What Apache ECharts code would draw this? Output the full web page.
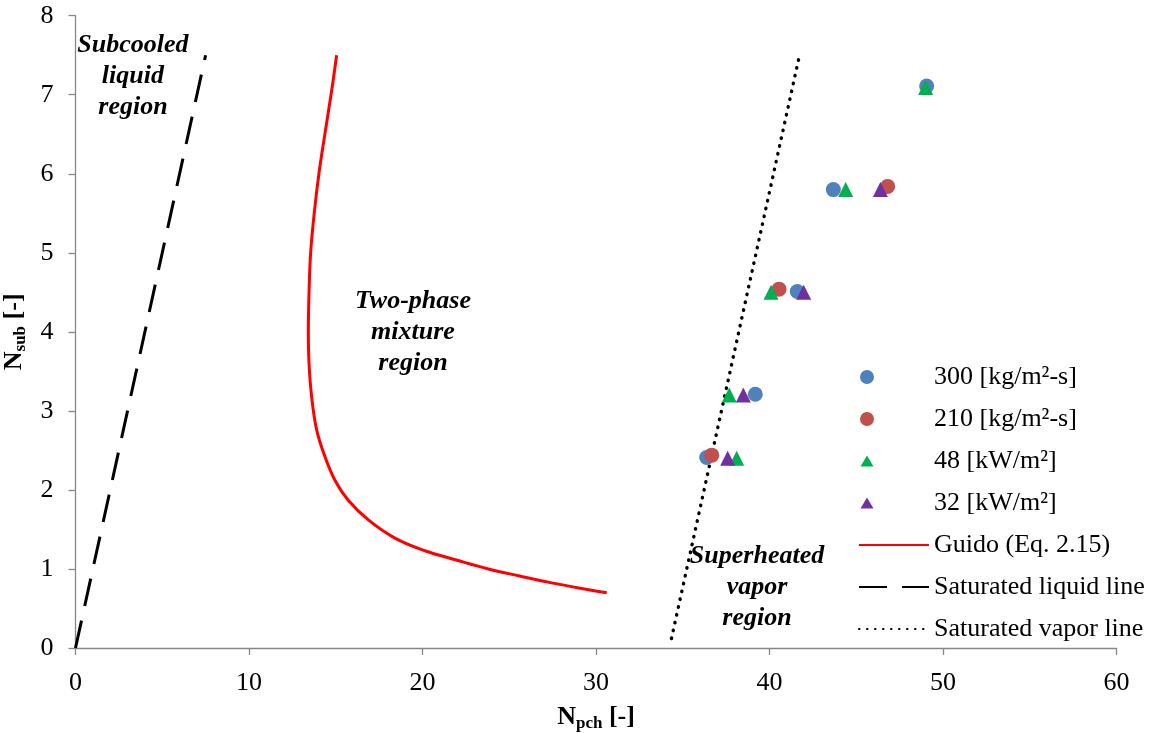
<!DOCTYPE html>
<html>
<head>
<meta charset="utf-8">
<script src="https://cdn.jsdelivr.net/npm/echarts@6/dist/echarts.min.js"></script>
<style>
  html, body { margin: 0; padding: 0; background: #ffffff; }
  #chart { width: 1150px; height: 733px; }
</style>
</head>
<body>
<div id="chart"></div>
<script>
// Axis ticks
const xTicks = [0, 10, 20, 30, 40, 50, 60];
const yTicks = [0, 1, 2, 3, 4, 5, 6, 7, 8];

// Measured stability points [Npch, Nsub]
const mass300 = [[49.06, 7.11], [43.68, 5.80], [41.60, 4.51], [39.18, 3.21], [36.38, 2.41]];
const mass210 = [[46.81, 5.84], [40.55, 4.54], [36.67, 2.44]];
const flux48  = [[49.00, 7.09], [44.39, 5.80], [40.09, 4.50], [37.68, 3.20], [38.11, 2.40]];
const flux32  = [[46.39, 5.80], [41.97, 4.50], [38.49, 3.20], [37.59, 2.40]];

// Guido stability boundary (Eq. 2.15)
const guidoCurve = [
  [15.05, 7.50], [14.77, 7.06], [14.38, 6.51], [14.03, 6.00], [13.76, 5.50],
  [13.55, 4.99], [13.46, 4.49], [13.42, 4.02], [13.46, 3.60], [13.61, 3.18],
  [13.90, 2.76], [14.38, 2.42], [14.96, 2.12], [15.72, 1.87], [16.88, 1.62],
  [18.41, 1.39], [20.14, 1.23], [22.00, 1.11], [23.80, 1.00], [25.60, 0.91],
  [27.30, 0.83], [29.00, 0.76], [30.62, 0.70]
];

// Saturation lines
const satLiquid = [[0, 0], [7.5, 7.5]];
const satVapor  = [[34.35, 0.12], [41.75, 7.52]];

// Region annotations (centre of each text block, in data units)
const regionNames = ['Subcooled\nliquid\nregion', 'Two-phase\nmixture\nregion', 'Superheated\nvapor\nregion'];
const regionAt = [[3.31, 7.23], [19.45, 4.0], [39.28, 0.77]];

const seriesNames = ['300 [kg/m²-s]', '210 [kg/m²-s]', '48 [kW/m²]', '32 [kW/m²]',
  'Guido (Eq. 2.15)', 'Saturated liquid line', 'Saturated vapor line'];

const FONT = "'Liberation Serif', 'Times New Roman', serif";
const AXIS_GRAY = '#888888';

// legend glyphs: marker drawn near the left end of a 70x14 slot
const circleIcon = 'path://M1,7A7,7 0 1,0 15,7A7,7 0 1,0 1,7Z M0,0L0,0.01Z M70,14L70,13.99Z';
const triIcon = 'path://M1.5,12.5L8,1.5L14.5,12.5Z M0,0L0,0.01Z M70,14L70,13.99Z';
// line entries show only the stroke
const hideSymbol = { color: 'rgba(0,0,0,0)', opacity: 0, borderWidth: 0 };

const chart = echarts.init(document.getElementById('chart'), null, { renderer: 'canvas' });

function scatter(name, data, symbol, color) {
  return {
    name, type: 'scatter', data, symbol, symbolSize: 15,
    itemStyle: { color, opacity: 1 },
    emphasis: { disabled: true }
  };
}
function line(name, data, style, smooth) {
  return {
    name, type: 'line', data, showSymbol: false, symbol: 'none', smooth: smooth || false,
    itemStyle: { color: style.color },
    lineStyle: style, emphasis: { disabled: true }, z: 1
  };
}

const axisName = {
  b: { fontFamily: FONT, fontSize: 26, fontWeight: 'bold', color: '#000', lineHeight: 30 },
  s: { fontFamily: FONT, fontSize: 17, fontWeight: 'bold', color: '#000', lineHeight: 12, verticalAlign: 'bottom' }
};

chart.setOption({
  animation: false,
  backgroundColor: '#ffffff',
  textStyle: { fontFamily: FONT },
  grid: { left: 75.5, right: 33.5, top: 15.7, bottom: 85, containLabel: false, outerBoundsMode: 'none' },
  xAxis: {
    type: 'value', min: xTicks[0], max: xTicks[xTicks.length - 1], interval: xTicks[1] - xTicks[0],
    name: '{b|N}{s|pch}{b| [-]}', nameLocation: 'middle', nameGap: 54,
    nameTextStyle: { rich: axisName },
    axisLine: { show: true, onZero: false, lineStyle: { color: AXIS_GRAY, width: 1.3 } },
    axisTick: { show: true, inside: false, length: 7, lineStyle: { color: AXIS_GRAY, width: 1.3 } },
    axisLabel: { margin: 22, fontFamily: FONT, fontSize: 26, color: '#000' },
    splitLine: { show: false }
  },
  yAxis: {
    type: 'value', min: yTicks[0], max: yTicks[yTicks.length - 1], interval: yTicks[1] - yTicks[0],
    name: '{b|N}{s|sub}{b| [-]}', nameLocation: 'middle', nameGap: 44, nameRotate: 90,
    nameTextStyle: { rich: axisName },
    axisLine: { show: true, onZero: false, lineStyle: { color: AXIS_GRAY, width: 1.3 } },
    axisTick: { show: true, inside: false, length: 7, lineStyle: { color: AXIS_GRAY, width: 1.3 } },
    axisLabel: { margin: 22, fontFamily: FONT, fontSize: 26, color: '#000' },
    splitLine: { show: false }
  },
  legend: {
    orient: 'vertical', left: 853, top: 359,
    itemWidth: 70, itemHeight: 14, itemGap: 16,
    selectedMode: false,
    textStyle: { fontFamily: FONT, fontSize: 26, lineHeight: 26, color: '#000' },
    data: [
      { name: seriesNames[0], icon: circleIcon },
      { name: seriesNames[1], icon: circleIcon },
      { name: seriesNames[2], icon: triIcon },
      { name: seriesNames[3], icon: triIcon },
      { name: seriesNames[4], itemStyle: hideSymbol },
      { name: seriesNames[5], itemStyle: hideSymbol },
      { name: seriesNames[6], itemStyle: hideSymbol }
    ]
  },
  series: [
    line(seriesNames[4], guidoCurve, { color: '#ff0000', width: 3 }, 0.4),
    line(seriesNames[5], satLiquid, { color: '#000000', width: 3, type: [28, 15] }),
    line(seriesNames[6], satVapor, { color: '#000000', width: 3.4, type: [0.5, 7.5], cap: 'round' }),
    scatter(seriesNames[0], mass300, 'circle', '#4f81bd'),
    scatter(seriesNames[1], mass210, 'circle', '#c0504d'),
    scatter(seriesNames[2], flux48, 'triangle', '#00b050'),
    scatter(seriesNames[3], flux32, 'triangle', '#7030a0')
  ]
});

// Region captions placed through the grid's coordinate system
chart.setOption({
  graphic: regionAt.map((p, i) => {
    const px = chart.convertToPixel({ gridIndex: 0 }, p);
    return {
      type: 'text', x: px[0], y: px[1], z: 10, silent: true,
      style: {
        text: regionNames[i], fill: '#000000',
        font: "italic bold 26px 'Liberation Serif', 'Times New Roman', serif",
        lineHeight: 31, align: 'center', verticalAlign: 'middle'
      }
    };
  })
});
</script>
</body>
</html>
